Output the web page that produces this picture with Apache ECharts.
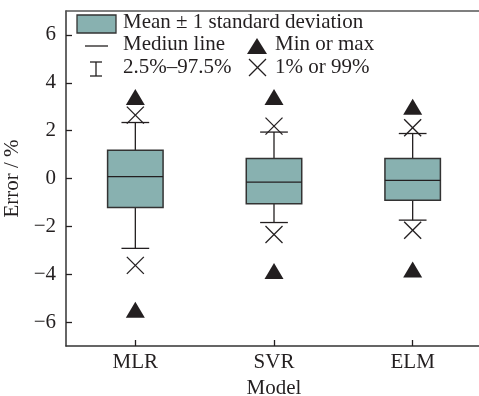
<!DOCTYPE html>
<html>
<head>
<meta charset="utf-8">
<script src="https://cdn.jsdelivr.net/npm/echarts@6/dist/echarts.min.js"></script>
<style>
  html, body { margin: 0; padding: 0; background: #fff; }
  #main { width: 479px; height: 396px; }
</style>
</head>
<body>
<div id="main"></div>
<script>
// 各模型误差分布
const categories = ['MLR', 'SVR', 'ELM']
const meanMinusSd = [-1.21, -1.06, -0.91]
const meanPlusSd = [1.18, 0.84, 0.84]
const medians = [0.08, -0.15, -0.08]
const p2_5 = [-2.92, -1.84, -1.74]
const p97_5 = [2.34, 1.94, 1.88]
const p1 = [-3.63, -2.34, -2.16]
const p99 = [2.65, 2.19, 2.12]
const minVals = [-5.49, -3.87, -3.80]
const maxVals = [3.41, 3.41, 3.00]
const yTicks = [-6, -4, -2, 0, 2, 4, 6]

const FONT = '"Liberation Serif", "Times New Roman", serif'
const INK = '#231f20'
const FILL = '#88b1b0'

const boxData = categories.map((c, i) => [i, meanMinusSd[i], meanPlusSd[i], medians[i], p2_5[i], p97_5[i]])
const crossData = []
const triData = []
categories.forEach((c, i) => {
  crossData.push([i, p1[i]], [i, p99[i]])
  triData.push([i, minVals[i]], [i, maxVals[i]])
})

function renderBox(params, api) {
  const x = api.value(0)
  const band = api.size([1, 0])[0]
  const half = band * 0.2
  const cap = band * 0.1
  const lo = api.coord([x, api.value(1)])
  const hi = api.coord([x, api.value(2)])
  const med = api.coord([x, api.value(3)])
  const wLo = api.coord([x, api.value(4)])
  const wHi = api.coord([x, api.value(5)])
  const cx = lo[0]
  const line = { stroke: INK, lineWidth: 1.3 }
  return {
    type: 'group',
    children: [
      { type: 'line', shape: { x1: cx, y1: wHi[1], x2: cx, y2: hi[1] }, style: line },
      { type: 'line', shape: { x1: cx, y1: lo[1], x2: cx, y2: wLo[1] }, style: line },
      { type: 'line', shape: { x1: cx - cap, y1: wHi[1], x2: cx + cap, y2: wHi[1] }, style: line },
      { type: 'line', shape: { x1: cx - cap, y1: wLo[1], x2: cx + cap, y2: wLo[1] }, style: line },
      { type: 'rect', shape: { x: cx - half, y: hi[1], width: half * 2, height: lo[1] - hi[1] },
        style: { fill: FILL, stroke: '#333', lineWidth: 1.5 } },
      { type: 'line', shape: { x1: cx - half, y1: med[1], x2: cx + half, y2: med[1] }, style: line }
    ]
  }
}

function renderCross(params, api) {
  const p = api.coord([api.value(0), api.value(1)])
  const r = 8.5
  const style = { stroke: INK, lineWidth: 1.3 }
  return {
    type: 'group',
    children: [
      { type: 'line', shape: { x1: p[0] - r, y1: p[1] - r, x2: p[0] + r, y2: p[1] + r }, style },
      { type: 'line', shape: { x1: p[0] - r, y1: p[1] + r, x2: p[0] + r, y2: p[1] - r }, style }
    ]
  }
}

const textStyle = (x, y, text) => ({
  type: 'text', left: x, top: y - 12,
  style: { text, font: '21px ' + FONT, fill: INK }
})

const chart = echarts.init(document.getElementById('main'))
chart.setOption({
  animation: false,
  grid: { left: 66, right: -3, top: 11, bottom: 50, outerBoundsMode: 'none' },
  xAxis: [
    {
      type: 'category',
      data: categories,
      name: 'Model',
      nameLocation: 'middle',
      nameGap: 28,
      nameTextStyle: { fontFamily: FONT, fontSize: 21, color: INK },
      axisLine: { onZero: false, lineStyle: { color: '#333', width: 1.5 } },
      axisTick: { show: true, inside: true, alignWithLabel: true, length: 6, lineStyle: { color: INK, width: 1.3 } },
      axisLabel: { fontFamily: FONT, fontSize: 21, color: INK, margin: 6 },
      splitLine: { show: false }
    },
    {
      type: 'category',
      position: 'top',
      data: categories,
      axisLine: { onZero: false, lineStyle: { color: '#555', width: 1.5 } },
      axisTick: { show: false },
      axisLabel: { show: false }
    }
  ],
  yAxis: {
    type: 'value',
    min: -7,
    max: 7,
    interval: 1,
    name: 'Error / %',
    nameLocation: 'middle',
    nameGap: 33,
    nameTextStyle: { fontFamily: FONT, fontSize: 21, color: INK },
    axisLine: { show: true, onZero: false, lineStyle: { color: '#333', width: 1.5 } },
    axisTick: {
      show: true, inside: true, length: 6, lineStyle: { color: INK, width: 1.3 },
      customValues: yTicks
    },
    axisLabel: {
      fontFamily: FONT, fontSize: 21, color: INK, margin: 10,
      customValues: yTicks,
      formatter: v => String(v).replace('-', '\u2212')
    },
    splitLine: { show: false }
  },
  graphic: [
    { type: 'rect', shape: { x: 77, y: 15, width: 39, height: 18 },
      style: { fill: FILL, stroke: '#333', lineWidth: 1.3 } },
    textStyle(123, 24, 'Mean \u00b1 1 standard deviation'),
    { type: 'line', shape: { x1: 85, y1: 46, x2: 108, y2: 46 }, style: { stroke: INK, lineWidth: 1.3 } },
    textStyle(123, 46, 'Mediun line'),
    { type: 'polygon', shape: { points: [[257, 38], [267, 54], [247, 54]] }, style: { fill: INK } },
    textStyle(275, 46, 'Min or max'),
    { type: 'line', shape: { x1: 96, y1: 62, x2: 96, y2: 76 }, style: { stroke: INK, lineWidth: 1.3 } },
    { type: 'line', shape: { x1: 90, y1: 62, x2: 102, y2: 62 }, style: { stroke: INK, lineWidth: 1.3 } },
    { type: 'line', shape: { x1: 90, y1: 76, x2: 102, y2: 76 }, style: { stroke: INK, lineWidth: 1.3 } },
    textStyle(123, 69, '2.5%\u201397.5%'),
    { type: 'line', shape: { x1: 249, y1: 59, x2: 266, y2: 76 }, style: { stroke: INK, lineWidth: 1.3 } },
    { type: 'line', shape: { x1: 249, y1: 76, x2: 266, y2: 59 }, style: { stroke: INK, lineWidth: 1.3 } },
    textStyle(275, 69, '1% or 99%')
  ],
  series: [
    {
      name: 'box',
      type: 'custom',
      renderItem: renderBox,
      encode: { x: 0, y: [1, 2, 3, 4, 5] },
      data: boxData
    },
    {
      name: 'p1p99',
      type: 'custom',
      renderItem: renderCross,
      encode: { x: 0, y: 1 },
      data: crossData
    },
    {
      name: 'minmax',
      type: 'scatter',
      symbol: 'triangle',
      symbolSize: [19, 16],
      itemStyle: { color: INK, opacity: 1 },
      data: triData
    }
  ]
})
</script>
</body>
</html>
